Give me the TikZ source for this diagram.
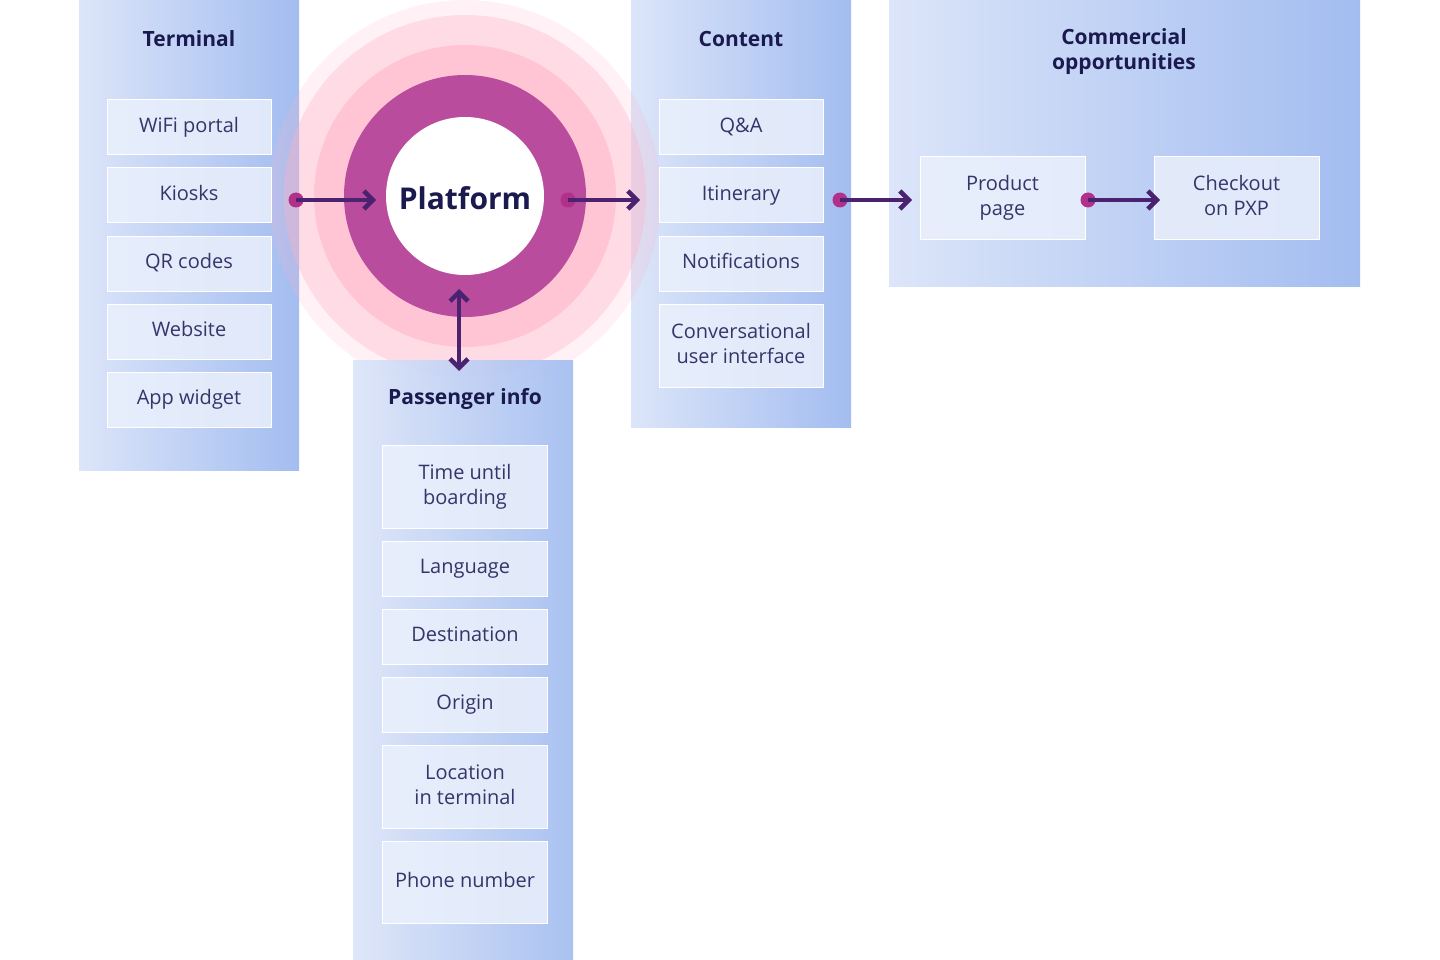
\documentclass[tikz,border=0pt]{standalone}
\usepackage{fontspec}
\setmainfont{Open Sans}
\usetikzlibrary{arrows.meta}
\definecolor{navy}{HTML}{1B1A4F}
\definecolor{itemtxt}{HTML}{35356A}
\definecolor{colA}{HTML}{DCE5F9}
\definecolor{colB}{HTML}{A3BDF0}
\definecolor{itemfill}{HTML}{EAF0FC}
\definecolor{mag}{HTML}{B94C9D}
\definecolor{dotc}{HTML}{B0308A}
\definecolor{arrc}{HTML}{4A2270}
\definecolor{pinkA}{HTML}{FFB3C8}
\begin{document}
\begin{tikzpicture}[x=1pt,y=-1pt,
  >={Straight Barb[length=9pt,width=18pt,line width=4.5pt]},
  item/.style={draw=white,line width=1pt,fill=itemfill,fill opacity=0.85,text opacity=1,text=itemtxt,font=\fontsize{20}{25}\selectfont,align=center,inner sep=0pt},
  ttl/.style={text=navy,font=\bfseries\fontsize{21}{26}\selectfont,align=center},
  conn/.style={draw=arrc,line width=3.5pt,->},
  dot/.style={circle,fill=dotc,inner sep=0pt,minimum size=15pt}]
\useasboundingbox (0,0) rectangle (1440,960);
\fill[white] (0,0) rectangle (1440,960);
% columns
\shade[left color=colA,right color=colB] (79,0) rectangle (299,470);
\shade[left color=colA,right color=colB] (631,0) rectangle (851,427);
\shade[left color=colA,right color=colB] (889,0) rectangle (1360,286);
% rings
\fill[pinkA,opacity=0.18] (465,196) circle (196);
\fill[pinkA,opacity=0.35] (465,196) circle (181);
\fill[pinkA,opacity=0.55] (465,196) circle (151);
\fill[mag] (465,196) circle (121);
\fill[white] (465,196) circle (79);
\node[text=navy,font=\bfseries\fontsize{30}{36}\selectfont] (plat) at (465,198) {Platform};
% passenger column
\shade[left color=colA,right color=colB,opacity=0.92] (353,360) rectangle (573,960);
% titles
\node[ttl] (tterm) at (189,39) {Terminal};
\node[ttl] (tcont) at (741,39) {Content};
\node[ttl] (tcomm) at (1124,52) {Commercial\\[-1pt]opportunities};
\node[ttl] (tpass) at (465,399) {Passenger info};
% terminal items
\foreach \n/\t/\y in {w/WiFi portal/127.5,k/Kiosks/195.5,q/QR codes/263.5,ws/Website/331.5,a/App widget/399.5}
  \node[item,minimum width=164pt,minimum height=55pt] (\n) at (189,\y) {\strut\t};
% content items
\node[item,minimum width=164pt,minimum height=55pt] (qa) at (741,127.5) {\strut Q\&A};
\node[item,minimum width=164pt,minimum height=55pt] (it) at (741,195.5) {\strut Itinerary};
\node[item,minimum width=164pt,minimum height=55pt] (no) at (741,263.5) {\strut Notifications};
\node[item,minimum width=164pt,minimum height=83pt] (cu) at (741,345.5) {\strut Conversational\\user interface\strut};
% commercial
\node[item,minimum width=165pt,minimum height=82pt] (pp) at (1002.5,198) {\strut Product\\page\strut};
\node[item,minimum width=165pt,minimum height=82pt] (co) at (1236.5,198) {\strut Checkout\\on PXP\strut};
% passenger items
\node[item,minimum width=165pt,minimum height=83pt] (ti) at (465,486.5) {\strut Time until\\boarding\strut};
\node[item,minimum width=165pt,minimum height=55pt] (la) at (465,568.5) {\strut Language};
\node[item,minimum width=165pt,minimum height=55pt] (de) at (465,636.5) {\strut Destination};
\node[item,minimum width=165pt,minimum height=55pt] (or) at (465,704.5) {\strut Origin};
\node[item,minimum width=165pt,minimum height=83pt] (lo) at (465,786.5) {\strut Location\\in terminal\strut};
\node[item,minimum width=165pt,minimum height=82pt] (ph) at (465,882) {\strut Phone number};
% connectors
\coordinate (e1) at (376,200); \coordinate (e2) at (640,200);
\coordinate (e3) at (912,200); \coordinate (e4) at (1160,200);
\node[dot] (d1) at (296,200) {};
\node[dot] (d2) at (568,200) {};
\node[dot] (d3) at (840,200) {};
\node[dot] (d4) at (1088,200) {};
\draw[conn] (d1.center) -- (e1);
\draw[conn] (d2.center) -- (e2);
\draw[conn] (d3.center) -- (e3);
\draw[conn] (d4.center) -- (e4);
\coordinate (v1) at (459,289); \coordinate (v2) at (459,371);
\draw[draw=arrc,line width=3.5pt,<->] (v1) -- (v2);
\end{tikzpicture}
\end{document}
